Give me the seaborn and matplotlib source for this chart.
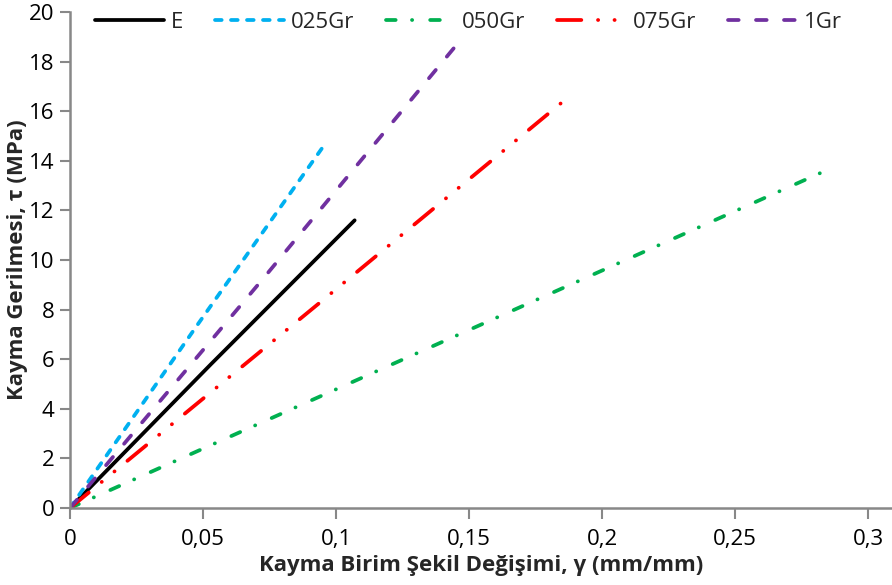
import matplotlib
matplotlib.use("Agg")
import matplotlib.pyplot as plt
import seaborn as sns
import pandas as pd
from matplotlib.ticker import FuncFormatter

# Data
series_names = ["E", "025Gr", "050Gr", "075Gr", "1Gr"]
x_E = [0.0, 0.053, 0.107]
y_E = [0.0, 5.8, 11.6]
x_025 = [0.0, 0.048, 0.096]
y_025 = [0.0, 7.4, 14.7]
x_050 = [0.0, 0.14, 0.284]
y_050 = [0.0, 6.7, 13.6]
x_075 = [0.0, 0.093, 0.186]
y_075 = [0.0, 8.2, 16.45]
x_1 = [0.0, 0.073, 0.1455]
y_1 = [0.0, 9.3, 18.7]

colors = ["#000000", "#00B0F0", "#00B050", "#FF0000", "#7030A0"]
LW = 2.7
_k = 2.4 / LW
dashes = [None,
          tuple(v * _k for v in (2.0, 2.8)),
          tuple(v * _k for v in (2.9, 4.9, 0.05, 5.4)),
          tuple(v * _k for v in (7.3, 5.0, 0.05, 4.9, 0.05, 5.0)),
          tuple(v * _k for v in (3.2, 5.2))]

xs = [x_E, x_025, x_050, x_075, x_1]
ys = [y_E, y_025, y_050, y_075, y_1]

sns.set_theme(style="white")
plt.rcParams['font.family'] = ['Open Sans', 'DejaVu Sans']

fig = plt.figure(figsize=(8.92, 5.85), dpi=100)
ax = fig.add_axes([70/892, 1-508/585, 1-70/892, (508-12)/585])

for name, x, y, c, d in zip(series_names, xs, ys, colors, dashes):
    df = pd.DataFrame({"x": x, "y": y})
    sns.lineplot(data=df, x="x", y="y", ax=ax, color=c, linewidth=LW, label=name, sort=False)
    line = ax.get_lines()[-1]
    if d is not None:
        line.set_dashes(d)
    line.set_solid_capstyle("round")
    line.set_dash_capstyle("round")

ax.set_xlim(0, 0.309)
ax.set_ylim(0, 20)
ax.set_xticks([0, 0.05, 0.1, 0.15, 0.2, 0.25, 0.3])
ax.set_yticks(range(0, 21, 2))
ax.xaxis.set_major_formatter(FuncFormatter(lambda v, p: ("%g" % round(v, 3)).replace(".", ",")))
ax.tick_params(axis="both", labelsize=16, colors="#888888", labelcolor="black", direction="out",
               width=1.5, bottom=True, left=True)
ax.tick_params(axis="x", length=8, pad=7)
ax.tick_params(axis="y", length=7, pad=4)
for s in ["top", "right"]:
    ax.spines[s].set_visible(False)
for s in ["left", "bottom"]:
    ax.spines[s].set_color("#888888")
    ax.spines[s].set_linewidth(1.8)

ax.set_xlabel("Kayma Birim Şekil Değişimi, γ (mm/mm)", fontsize=16, fontweight="bold")
ax.set_ylabel("Kayma Gerilmesi, τ (MPa)", fontsize=16, fontweight="bold")
ax.xaxis.label.set_va("center")
ax.yaxis.label.set_va("center")
ax.yaxis.set_label_coords((18 - 70) / 822, 0.5)
ax.xaxis.set_label_coords(0.5, -(566 - 508) / 496)

leg = ax.legend(loc="center left", bbox_to_anchor=(95/892, 1 - 22/585), bbox_transform=fig.transFigure,
                ncol=5, frameon=False, fontsize=16, borderpad=0, borderaxespad=0,
                handlelength=3.1, columnspacing=1.45, handletextpad=0.3)

fig.savefig("out.png", dpi=100)
